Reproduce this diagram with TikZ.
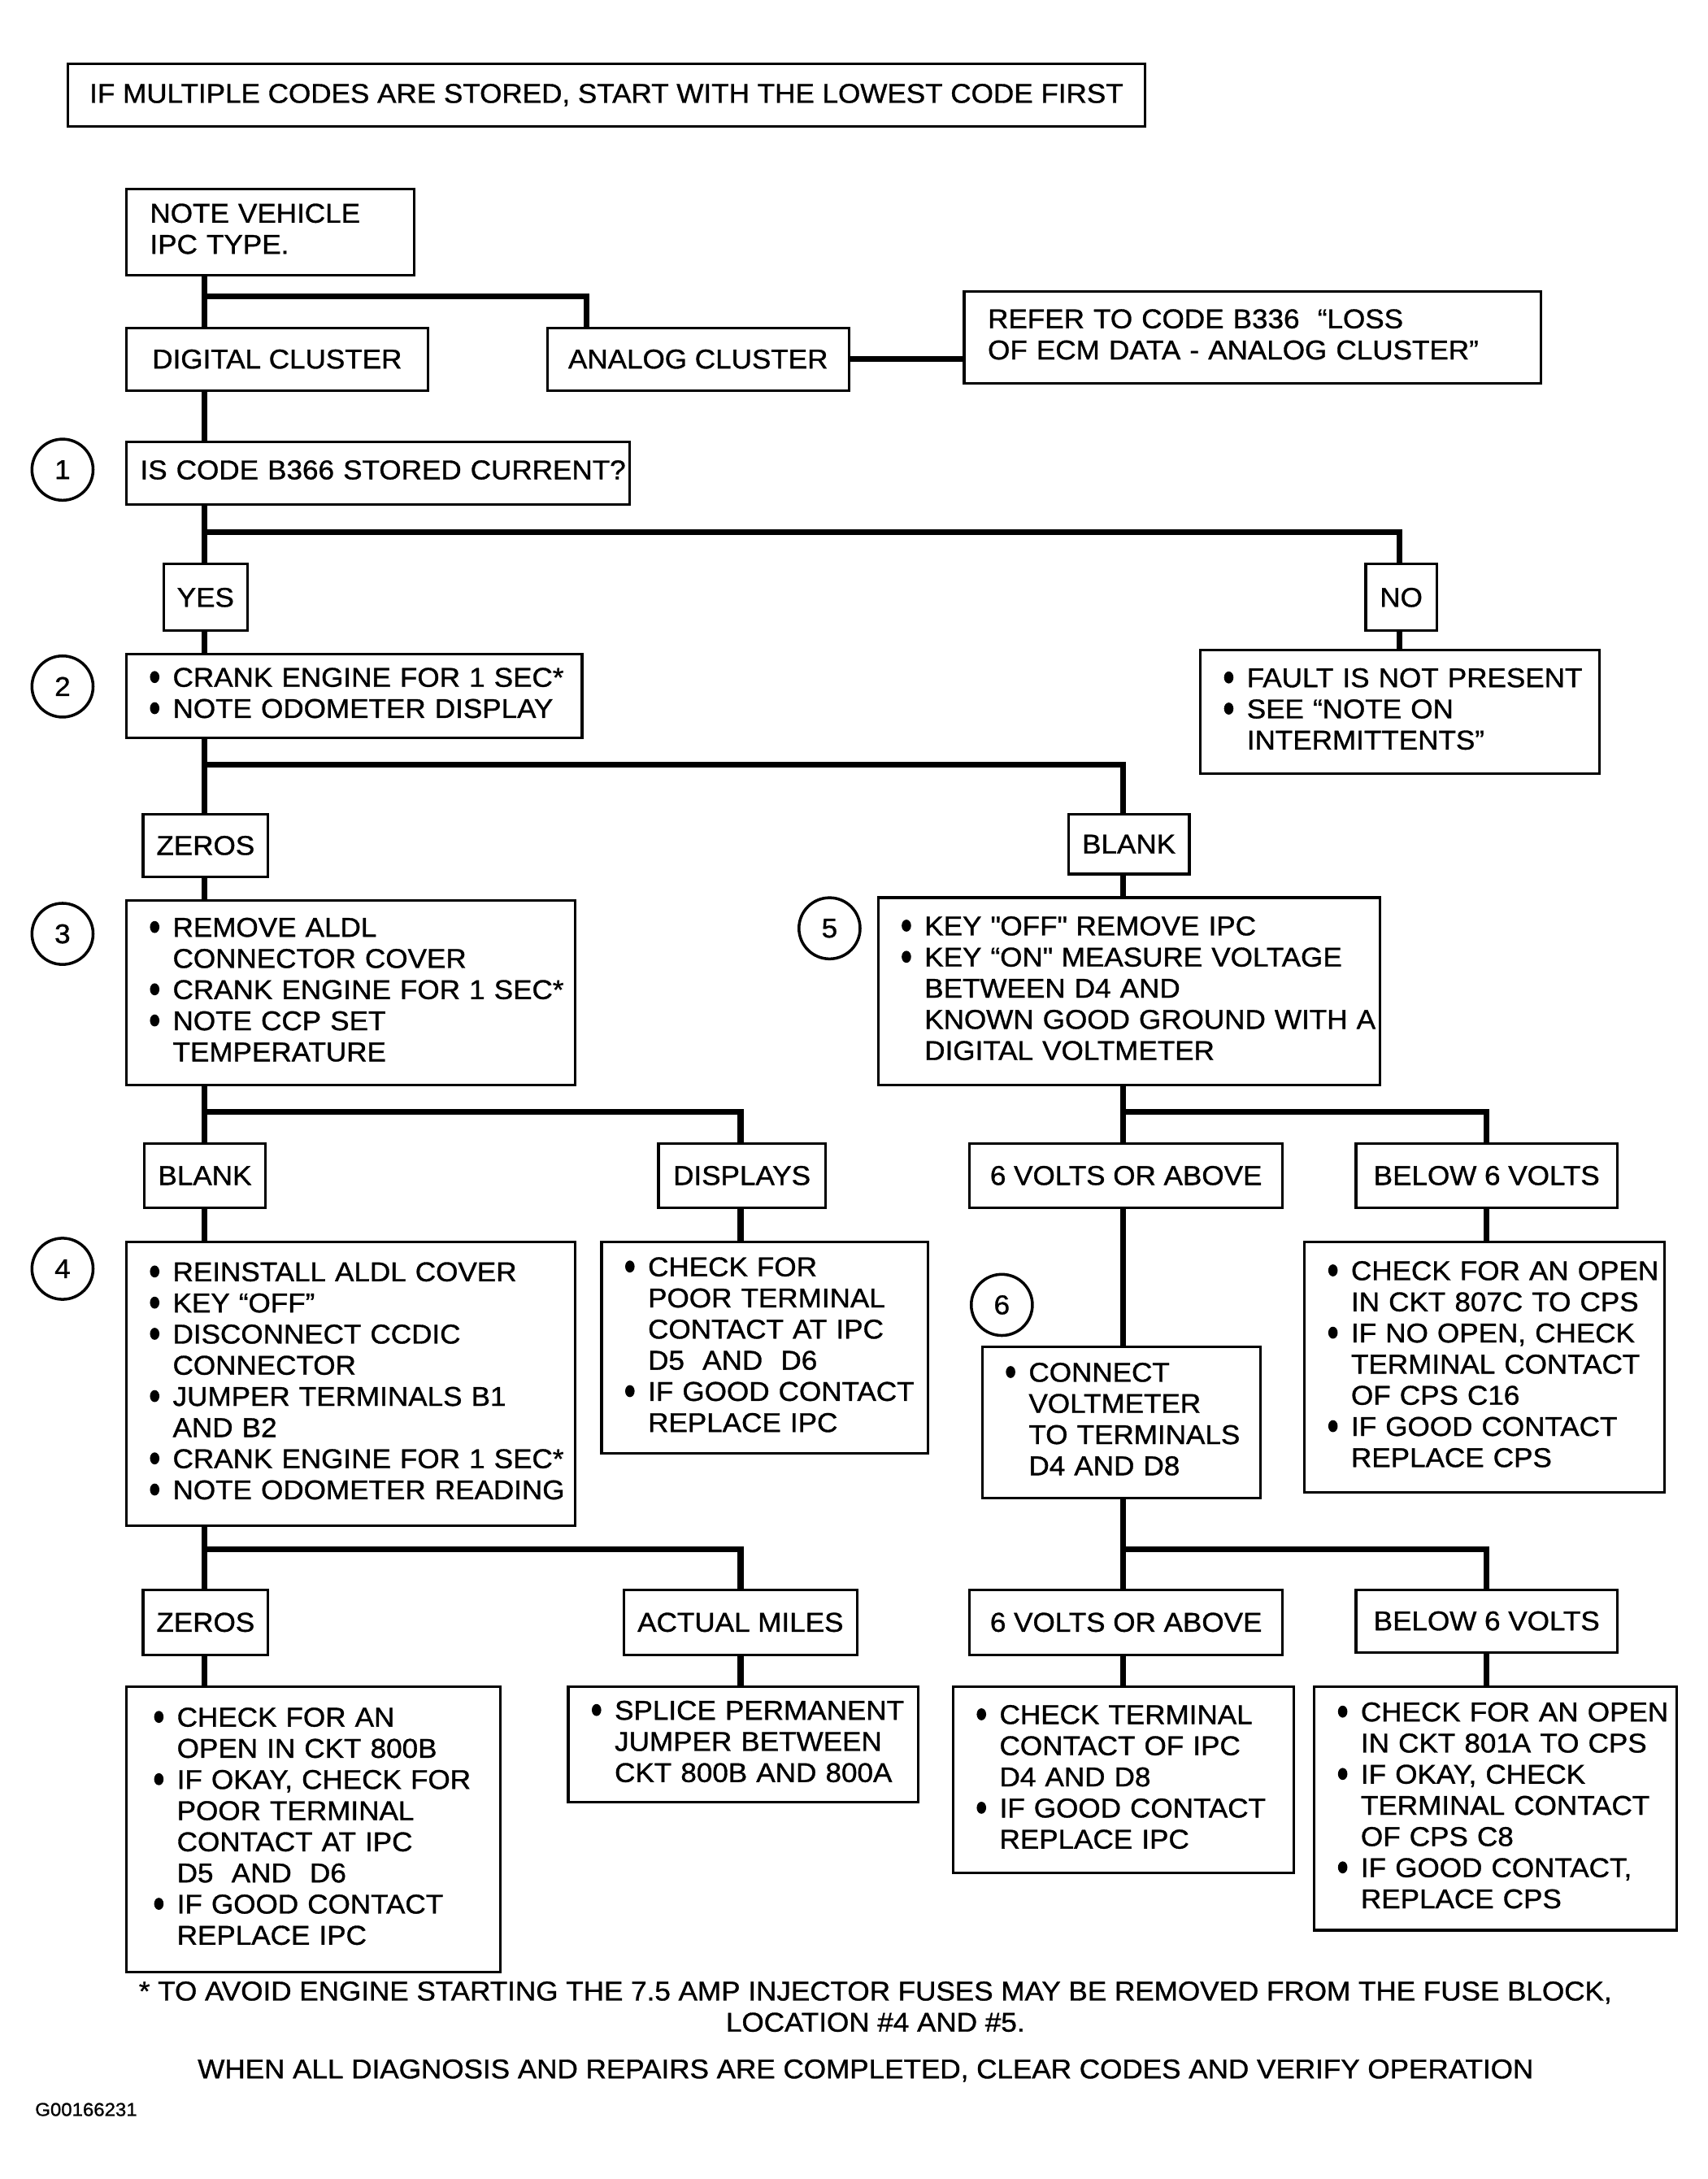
\documentclass[tikz,border=0pt]{standalone}
\usepackage{fontspec}
\setmainfont{Liberation Sans}[FakeStretch=1.05, FakeBold=1]

% one unit = one pixel of the 1229 px wide layout
\newcommand{\pxu}{0.017087cm}
\newcommand{\chartfont}{\fontsize{9.5}{10.9}\selectfont}
\newcommand{\dotb}{\raisebox{1.3pt}{\tikz\fill (0,0) ellipse [x radius=1.65pt, y radius=2.1pt];}}
\newcommand{\items}[1]{\begin{tabular}{@{}l@{\hspace{4.7pt}}l@{}}#1\end{tabular}}
\newcommand{\rows}[1]{\begin{tabular}{@{}l@{}}#1\end{tabular}}

\tikzset{
  flowbox/.style={draw, line width=0.9pt, inner sep=0pt, align=left},
  answerbox/.style={draw, line width=0.9pt, inner sep=0pt, align=center},
  link/.style={line width=2pt},
  stepno/.style={draw, circle, line width=1pt, minimum size=44*\pxu, inner sep=0pt},
  note/.style={align=center, inner sep=0pt},
}

% box from its corners: [pad], name, x1, y1, x2, y2, text
\newcommand{\flowbox}[7][17]{%
  \pgfmathsetlengthmacro\bw{(#5-#3)*\pxu}%
  \pgfmathsetlengthmacro\bh{(#6-#4)*\pxu}%
  \pgfmathsetlengthmacro\tw{(#5-#3-2*#1)*\pxu}%
  \node[flowbox, anchor=north west, minimum width=\bw, minimum height=\bh,
        text width=\tw] (#2) at (#3,#4) {#7};}
\newcommand{\answerbox}[6]{%
  \pgfmathsetlengthmacro\bw{(#4-#2)*\pxu}%
  \pgfmathsetlengthmacro\bh{(#5-#3)*\pxu}%
  \node[answerbox, anchor=north west, minimum width=\bw, minimum height=\bh]
        (#1) at (#2,#3) {#6};}

\begin{document}
\begin{tikzpicture}[x=\pxu, y=-\pxu, every node/.append style={font=\chartfont}]

\useasboundingbox (0,0) rectangle (1229,1568);

% trunk columns and branch rows
\coordinate (colA) at (147,0);
\coordinate (colB) at (533,0);
\coordinate (colC) at (808,0);
\coordinate (colD) at (1070,0);
\coordinate (colE) at (422,0);
\coordinate (colF) at (1007,0);

\coordinate (rowA) at (0,213);
\coordinate (rowB) at (0,383);
\coordinate (rowC) at (0,550);
\coordinate (rowD) at (0,800);
\coordinate (rowE) at (0,1115);

\answerbox{first}{48}{45}{823}{90}{IF MULTIPLE CODES ARE STORED, START WITH THE LOWEST CODE FIRST}

% cluster type
\flowbox{ipc}{90}{135}{297}{197}{\rows{NOTE VEHICLE\\IPC TYPE.}}
\answerbox{digital}{90}{235}{307}{280}{DIGITAL CLUSTER}
\answerbox{analog}{393}{235}{610}{280}{ANALOG CLUSTER}
\flowbox{refer}{693}{209}{1108}{275}{\rows{REFER TO CODE B336\ \ “LOSS\\OF ECM DATA - ANALOG CLUSTER”}}

% step 1
\node[stepno] (s1) at (45,338) {1};
\flowbox[10]{current}{90}{317}{452}{362}{\rows{IS CODE B366 STORED CURRENT?}}
\answerbox{yes}{117}{405}{177}{453}{YES}
\answerbox{no}{982}{405}{1033}{453}{NO}
\flowbox{fault}{863}{467}{1150}{556}{\items{\dotb & FAULT IS NOT PRESENT\\ \dotb & SEE “NOTE ON\\ & INTERMITTENTS”}}

% step 2
\node[stepno] (s2) at (45,494) {2};
\flowbox{crank}{90}{470}{418}{530}{\items{\dotb & CRANK ENGINE FOR 1 SEC*\\ \dotb & NOTE ODOMETER DISPLAY}}
\answerbox{zeros}{102}{585}{192}{630}{ZEROS}
\answerbox{blank}{768}{585}{855}{628}{BLANK}

% step 3
\node[stepno] (s3) at (45,672) {3};
\flowbox{aldl}{90}{647}{413}{780}{\items{\dotb & REMOVE ALDL\\ & CONNECTOR COVER\\ \dotb & CRANK ENGINE FOR 1 SEC*\\ \dotb & NOTE CCP SET\\ & TEMPERATURE}}
\answerbox{blankccp}{103}{822}{190}{868}{BLANK}
\answerbox{displays}{473}{822}{593}{868}{DISPLAYS}
\flowbox{poorcontact}{432}{893}{667}{1045}{\items{\dotb & CHECK FOR\\ & POOR TERMINAL\\ & CONTACT AT IPC\\ & D5\ \ AND\ \ D6\\ \dotb & IF GOOD CONTACT\\ & REPLACE IPC}}

% step 5
\node[stepno] (s5) at (597,668) {5};
\flowbox{measure}{631}{645}{992}{780}{\items{\dotb & KEY \textquotedbl OFF\textquotedbl\ REMOVE IPC\\ \dotb & KEY “ON\textquotedbl\ MEASURE VOLTAGE\\ & BETWEEN D4 AND\\ & KNOWN GOOD GROUND WITH A\\ & DIGITAL VOLTMETER}}
\answerbox{above}{697}{822}{922}{868}{6 VOLTS OR ABOVE}
\answerbox{below}{975}{822}{1163}{868}{BELOW 6 VOLTS}
\flowbox{open}{938}{893}{1197}{1073}{\items{\dotb & CHECK FOR AN OPEN\\ & IN CKT 807C TO CPS\\ \dotb & IF NO OPEN, CHECK\\ & TERMINAL CONTACT\\ & OF CPS C16\\ \dotb & IF GOOD CONTACT\\ & REPLACE CPS}}

% step 4
\node[stepno] (s4) at (45,913) {4};
\flowbox{jumper}{90}{893}{413}{1097}{\items{\dotb & REINSTALL ALDL COVER\\ \dotb & KEY “OFF”\\ \dotb & DISCONNECT CCDIC\\ & CONNECTOR\\ \dotb & JUMPER TERMINALS B1\\ & AND B2\\ \dotb & CRANK ENGINE FOR 1 SEC*\\ \dotb & NOTE ODOMETER READING}}
\answerbox{zerosodo}{102}{1143}{192}{1190}{ZEROS}
\answerbox{miles}{448}{1143}{616}{1190}{ACTUAL MILES}
\flowbox[20]{ckt}{90}{1213}{359}{1418}{\items{\dotb & CHECK FOR AN\\ & OPEN IN CKT 800B\\ \dotb & IF OKAY, CHECK FOR\\ & POOR TERMINAL\\ & CONTACT AT IPC\\ & D5\ \ AND\ \ D6\\ \dotb & IF GOOD CONTACT\\ & REPLACE IPC}}
\flowbox{splice}{408}{1213}{660}{1296}{\items{\dotb & SPLICE PERMANENT\\ & JUMPER BETWEEN\\ & CKT 800B AND 800A}}

% step 6
\node[stepno] (s6) at (721,939) {6};
\flowbox{voltmeter}{706}{968}{906}{1077}{\items{\dotb & CONNECT\\ & VOLTMETER\\ & TO TERMINALS\\ & D4 AND D8}}
\answerbox{abovevm}{697}{1143}{922}{1190}{6 VOLTS OR ABOVE}
\answerbox{belowvm}{975}{1143}{1163}{1188}{BELOW 6 VOLTS}
\flowbox{terminal}{685}{1213}{930}{1347}{\items{\dotb & CHECK TERMINAL\\ & CONTACT OF IPC\\ & D4 AND D8\\ \dotb & IF GOOD CONTACT\\ & REPLACE IPC}}
\flowbox{cps}{945}{1213}{1206}{1388}{\items{\dotb & CHECK FOR AN OPEN\\ & IN CKT 801A TO CPS\\ \dotb & IF OKAY, CHECK\\ & TERMINAL CONTACT\\ & OF CPS C8\\ \dotb & IF GOOD CONTACT,\\ & REPLACE CPS}}

% connectors
\draw[link] (ipc.south -| colA) -- (digital.north -| colA);
\draw[link] (rowA -| colA) -| (analog.north -| colE);
\draw[link] (analog.east) -- (analog.east -| refer.west);
\draw[link] (digital.south -| colA) -- (current.north -| colA);
\draw[link] (current.south -| colA) -- (yes.north -| colA);
\draw[link] (rowB -| colA) -| (no.north -| colF);
\draw[link] (no.south -| colF) -- (fault.north -| colF);
\draw[link] (yes.south -| colA) -- (crank.north -| colA);
\draw[link] (crank.south -| colA) -- (zeros.north -| colA);
\draw[link] (rowC -| colA) -| (blank.north -| colC);
\draw[link] (zeros.south -| colA) -- (aldl.north -| colA);
\draw[link] (blank.south -| colC) -- (measure.north -| colC);
\draw[link] (aldl.south -| colA) -- (blankccp.north -| colA);
\draw[link] (rowD -| colA) -| (displays.north -| colB);
\draw[link] (measure.south -| colC) -- (above.north -| colC);
\draw[link] (rowD -| colC) -| (below.north -| colD);
\draw[link] (blankccp.south -| colA) -- (jumper.north -| colA);
\draw[link] (displays.south -| colB) -- (poorcontact.north -| colB);
\draw[link] (above.south -| colC) -- (voltmeter.north -| colC);
\draw[link] (below.south -| colD) -- (open.north -| colD);
\draw[link] (jumper.south -| colA) -- (zerosodo.north -| colA);
\draw[link] (rowE -| colA) -| (miles.north -| colB);
\draw[link] (voltmeter.south -| colC) -- (abovevm.north -| colC);
\draw[link] (rowE -| colC) -| (belowvm.north -| colD);
\draw[link] (zerosodo.south -| colA) -- (ckt.north -| colA);
\draw[link] (miles.south -| colB) -- (splice.north -| colB);
\draw[link] (abovevm.south -| colC) -- (terminal.north -| colC);
\draw[link] (belowvm.south -| colD) -- (cps.north -| colD);

% notes
\node[note] (footnote) at (630,1444) {* TO AVOID ENGINE STARTING THE 7.5 AMP INJECTOR FUSES MAY BE REMOVED FROM THE FUSE BLOCK,\\LOCATION \#4 AND \#5.};
\node[note] (closing) at (623,1490) {WHEN ALL DIAGNOSIS AND REPAIRS ARE COMPLETED, CLEAR CODES AND VERIFY OPERATION};
\node[note, font=\fontsize{6.5}{7}\selectfont] (figid) at (62,1518) {G00166231};

\end{tikzpicture}
\end{document}
